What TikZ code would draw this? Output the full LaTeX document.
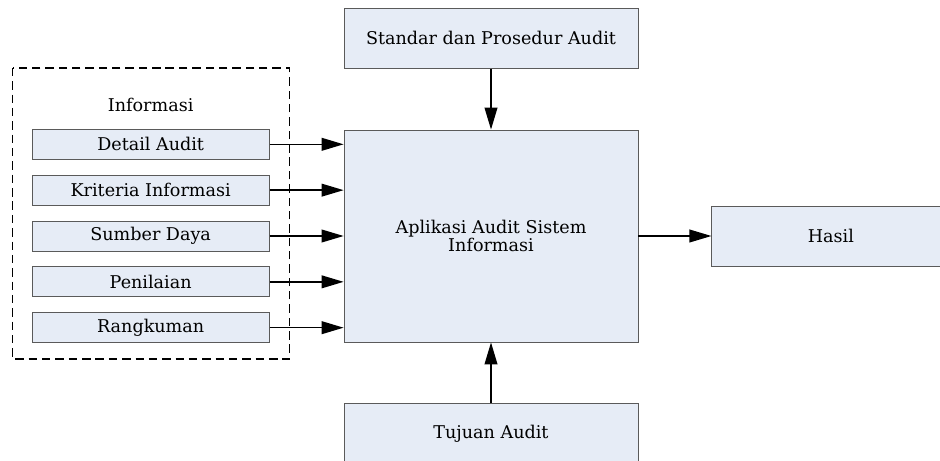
\documentclass[tikz,border=0pt]{standalone}
\usepackage{fontspec}
\setmainfont{DejaVu Serif}
\usepackage{xcolor}
\usetikzlibrary{arrows.meta, positioning, calc}
\definecolor{boxfill}{HTML}{E6ECF6}
\definecolor{boxline}{HTML}{5A5A5A}

\begin{document}
\begin{tikzpicture}[
    node distance=0.375cm,
    box/.style={rectangle, draw=boxline, fill=boxfill, line width=0.6pt, minimum width=7.35cm, minimum height=1.5cm, align=center, font=\fontsize{12.5}{13}\selectfont},
    infobox/.style={box, minimum width=5.925cm, minimum height=0.75cm},
    grouplabel/.style={font=\fontsize{12.5}{13}\selectfont},
    arrow/.style={-{Triangle[length=5.5mm, width=3.2mm]}, line width=1pt},
    group/.style={draw, dash pattern=on 6pt off 3.5pt, line width=1pt}
]
\useasboundingbox (0,0) rectangle (23.5,-11.525);

% Main process
\node[box, minimum height=5.3cm] (app) at (12.275,-5.9) {Aplikasi Audit Sistem\\Informasi};

% Control and mechanism
\node[box, above=1.525cm of app] (std) {Standar dan Prosedur Audit};
\node[box, below=1.525cm of app] (goal) {Tujuan Audit};

% Output
\node[box, minimum width=5.95cm, right=1.825cm of app] (result) {Hasil};

% Inputs
\node[infobox, left=1.85cm of app] (sumber) {Sumber Daya};
\node[infobox, above=of sumber] (kriteria) {Kriteria Informasi};
\node[infobox, above=of kriteria] (detail) {Detail Audit};
\node[infobox, below=of sumber] (nilai) {Penilaian};
\node[infobox, below=of nilai] (rangkum) {Rangkuman};
\node[grouplabel, above=0.3cm of detail] (infolabel) {Informasi};

% Group frame
\draw[group] ($(detail.north west)+(-0.475,1.525)$) rectangle ($(rangkum.south east)+(0.5,-0.4)$);

% Arrows
\foreach \src in {detail, kriteria, sumber, nilai, rangkum}
    \draw[arrow] (\src.east) -- (\src.east -| app.west);
\draw[arrow] (std) -- (app);
\draw[arrow] (goal) -- (app);
\draw[arrow] (app) -- (result);

\end{tikzpicture}
\end{document}
